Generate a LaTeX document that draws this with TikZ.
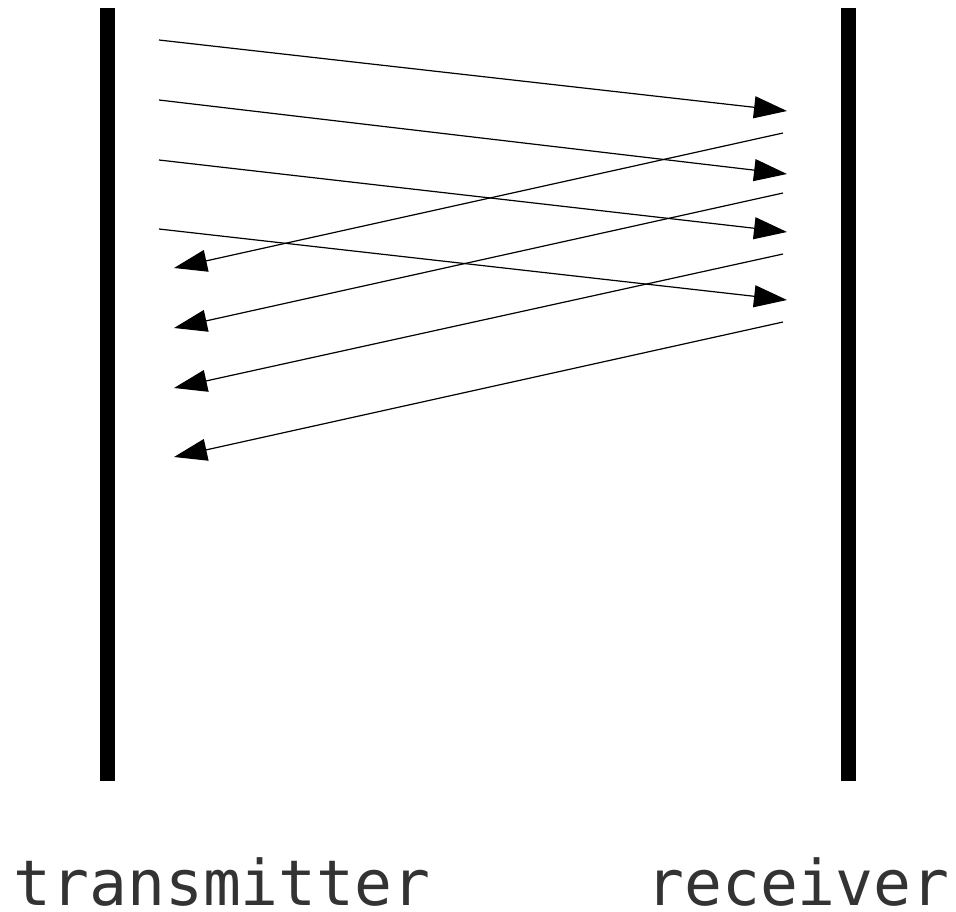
\documentclass[tikz,border=0pt]{standalone}
\usepackage{fontspec}
\newfontfamily\monofont{DejaVu Sans Mono}
\usetikzlibrary{arrows.meta}
\definecolor{txt}{HTML}{333333}
\begin{document}
\begin{tikzpicture}[x=1pt,y=-1pt,
  bar/.style={fill=black,draw=none},
  msg/.style={line width=1.2pt,-{Triangle[length=33pt,width=22pt]}},
  lbl/.style={anchor=base,text=txt,font=\monofont\fontsize{63}{70}\selectfont,inner sep=0pt}]
\useasboundingbox (0,0) rectangle (956,911);
\fill[bar] (100,8) rectangle (115,781);
\fill[bar] (841,8) rectangle (856,781);
% transmitter -> receiver
\coordinate (s1) at (159,40);  \coordinate (t1) at (787,111);
\coordinate (s2) at (159,100); \coordinate (t2) at (787,174);
\coordinate (s3) at (159,160); \coordinate (t3) at (787,232);
\coordinate (s4) at (159,229); \coordinate (t4) at (787,300);
% receiver -> transmitter
\coordinate (r1) at (783,133); \coordinate (u1) at (174,268);
\coordinate (r2) at (783,193); \coordinate (u2) at (174,328);
\coordinate (r3) at (783,254); \coordinate (u3) at (174,388);
\coordinate (r4) at (783,322); \coordinate (u4) at (174,457);
\foreach \i in {1,2,3,4}{
  \draw[msg] (s\i) -- (t\i);
  \draw[msg] (r\i) -- (u\i);
}
\node[lbl] (tx) at (222,905) {transmitter};
\node[lbl] (rx) at (798,905) {receiver};
\end{tikzpicture}
\end{document}
